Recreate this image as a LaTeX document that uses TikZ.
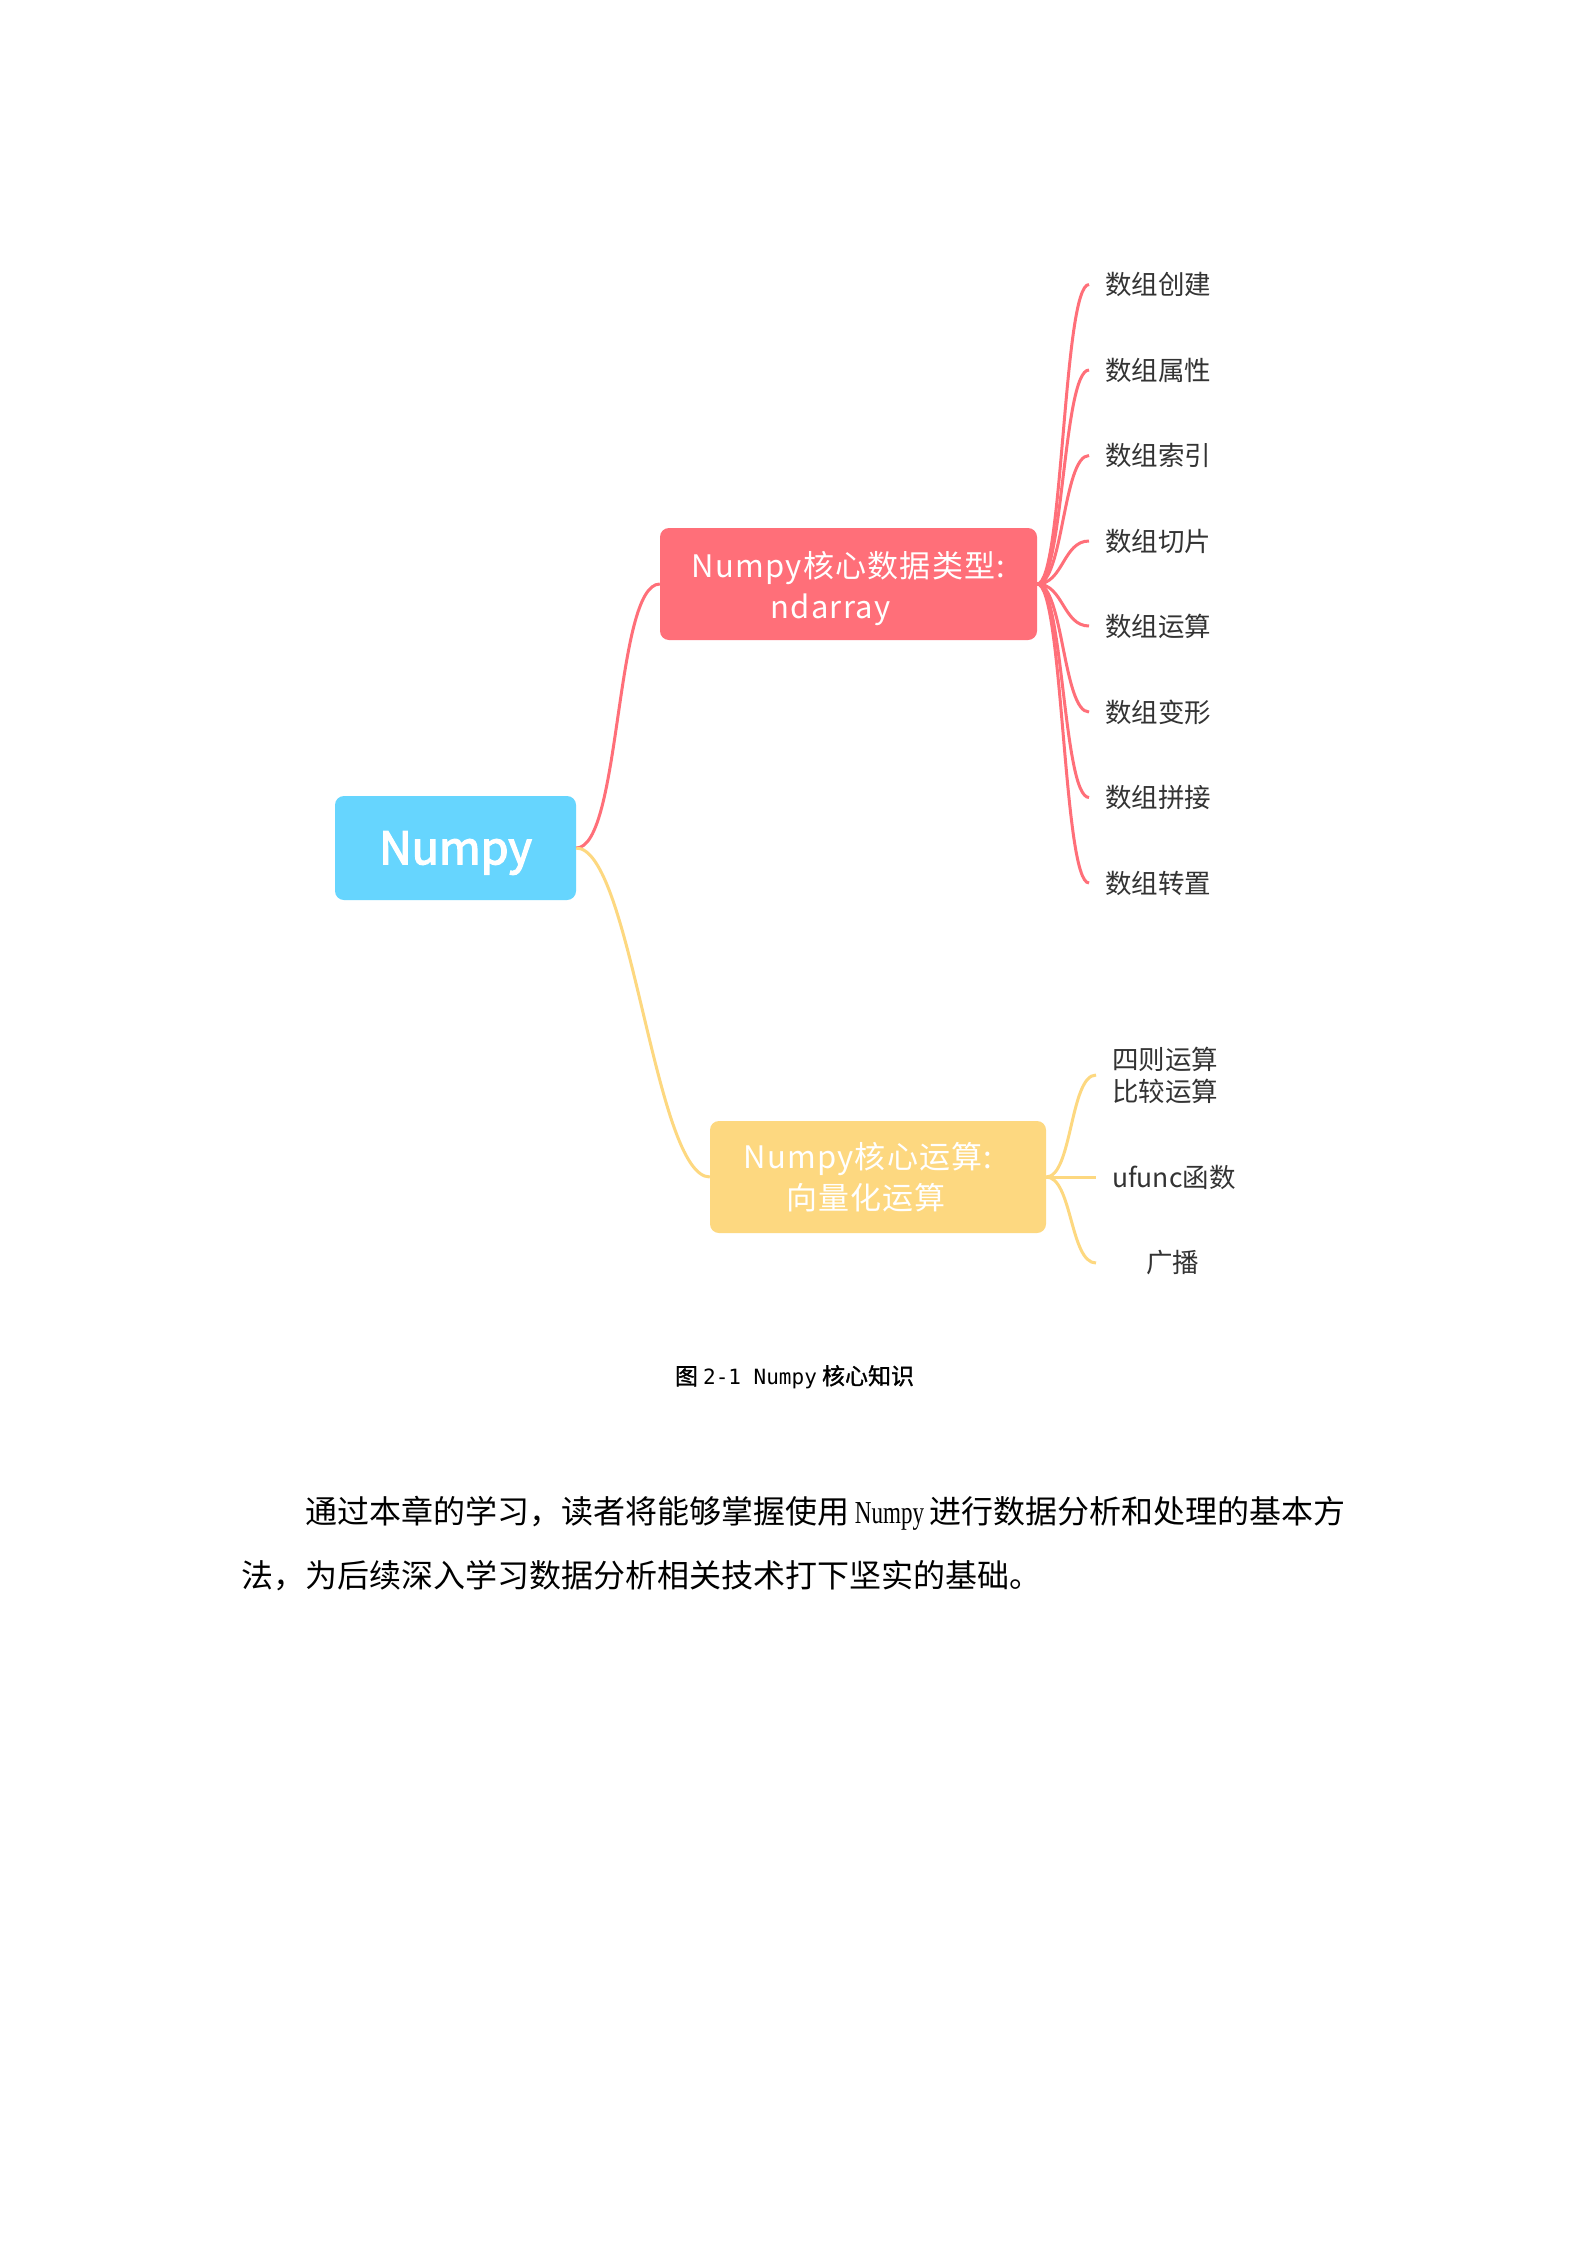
\documentclass[tikz,border=0pt]{standalone}
\usepackage{fontspec}
\setmainfont{Noto Sans CJK SC}
\newfontfamily\cjk{Noto Sans CJK SC}
\newfontfamily\rootfont[FakeBold=3]{Noto Sans CJK SC}
\newfontfamily\capfont[FakeBold=1.2]{Noto Sans CJK SC}
\newfontfamily\boxfont[LetterSpace=4]{Noto Sans CJK SC}
\newfontfamily\capmono{DejaVu Sans Mono}
\newfontfamily\bodylatin[FakeStretch=0.72]{Liberation Serif}
\definecolor{rootc}{HTML}{66D5FE}
\definecolor{redc}{HTML}{FF6F79}
\definecolor{yelc}{HTML}{FDD880}
\definecolor{leafc}{HTML}{333333}
\newcommand{\lowr}[1]{\raisebox{-5pt}[\height][\depth]{#1}}
\tikzset{
  rootbox/.style={fill=rootc, rounded corners=9pt, text=white, minimum width=241pt, minimum height=104pt, inner sep=0pt, font=\rootfont\fontsize{45}{50}\selectfont},
  mainbox/.style={rounded corners=9pt, text=white, inner sep=0pt, align=center, font=\boxfont\fontsize{31}{41}\selectfont},
  redleaf/.style={anchor=west, inner xsep=16pt, inner ysep=0pt, text=leafc, font=\cjk\fontsize{26.5}{32}\selectfont},
  yelleaf/.style={anchor=west, inner xsep=16pt, inner ysep=0pt, text=leafc, font=\cjk\fontsize{26.5}{32}\selectfont},
  redline/.style={draw=redc, line width=3pt},
  yelline/.style={draw=yelc, line width=3pt},
}
\begin{document}
\begin{tikzpicture}[x=1pt,y=-1pt]
\fill[white] (0,0) rectangle (1587,2245);
\useasboundingbox (0,0) rectangle (1587,2245);

\node[rootbox] (root) at (455.5,848) {\lowr{Numpy}};
\node[mainbox, fill=redc, minimum width=377pt, minimum height=112pt] (red) at (848.5,584) {\lowr{Numpy核心数据类型:}\\\lowr{ndarray\kern36pt}};
\node[mainbox, fill=yelc, minimum width=336pt, minimum height=112pt] (yel) at (878,1177) {\kern0pt Numpy核心运算:\kern20pt\\\kern0pt向量化运算\kern24pt};

\node[redleaf] (r1) at (1089,284.5) {数组创建};
\node[redleaf] (r2) at (1089,370) {数组属性};
\node[redleaf] (r3) at (1089,455.5) {数组索引};
\node[redleaf] (r4) at (1089,541) {数组切片};
\node[redleaf] (r5) at (1089,626) {数组运算};
\node[redleaf] (r6) at (1089,712) {数组变形};
\node[redleaf] (r7) at (1089,797.5) {数组拼接};
\node[redleaf] (r8) at (1089,883) {数组转置};

\node[yelleaf, align=left] (y1) at (1096,1075) {四则运算\\比较运算};
\node[yelleaf] (y2) at (1096,1177) {ufunc函数};
\node[yelleaf, text width=121pt, align=center] (y3) at (1096,1263) {广播};

\draw[redline] (root.east) .. controls +(45,0) and +(-45,0) .. (red.west);
\draw[yelline] (root.east) .. controls +(55,0) and +(-55,0) .. (yel.west);

\foreach \n in {r1,r2,r3,r4,r5,r6,r7,r8}
  \draw[redline] (red.east) .. controls +(26,0) and +(-26,0) .. (\n.west);
\foreach \n in {y1,y2,y3}
  \draw[yelline] (yel.east) .. controls +(26,0) and +(-26,0) .. (\n.west);

\node[font=\capfont\fontsize{23}{26}\selectfont] (cap) at (794.5,1377) {图 {\capmono\fontsize{21}{26}\selectfont 2-1 Numpy} 核心知识};

\node[anchor=west, inner sep=0pt, font=\cjk\fontsize{32}{36}\selectfont] (p1) at (305,1513) {通过本章的学习，读者将能够掌握使用{\bodylatin\ Numpy\ }进行数据分析和处理的基本方};
\node[anchor=west, inner sep=0pt, font=\cjk\fontsize{32}{36}\selectfont] (p2) at (241,1576) {法，为后续深入学习数据分析相关技术打下坚实的基础。};
\end{tikzpicture}
\end{document}
